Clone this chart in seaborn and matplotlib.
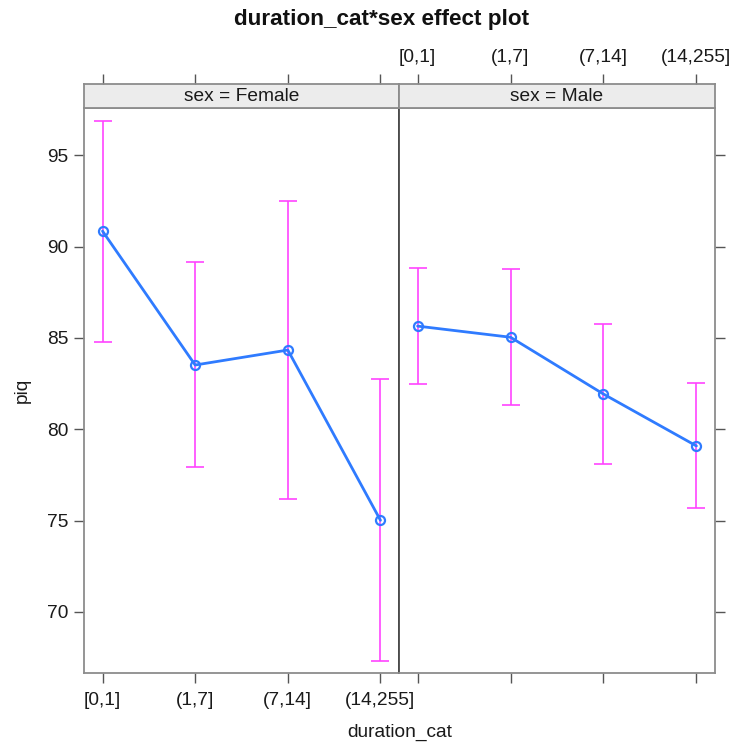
import matplotlib.pyplot as plt
import numpy as np
import pandas as pd
import seaborn as sns

# effect estimates
duration_levels = ["[0,1]", "(1,7]", "(7,14]", "(14,255]"]
sexes = ["Female", "Male"]

female_fit = [90.85, 83.52, 84.34, 75.02]
female_lower = [84.80, 77.92, 76.17, 67.32]
female_upper = [96.89, 89.14, 92.51, 82.74]

male_fit = [85.65, 85.04, 81.93, 79.09]
male_lower = [82.48, 81.31, 78.10, 75.68]
male_upper = [88.81, 88.77, 85.78, 82.52]

y_ticks = [70, 75, 80, 85, 90, 95]

df = pd.DataFrame({
    "duration_cat": duration_levels * 2,
    "pos": list(range(len(duration_levels))) * 2,
    "sex": ["Female"] * 4 + ["Male"] * 4,
    "fit": female_fit + male_fit,
    "lower": female_lower + male_lower,
    "upper": female_upper + male_upper,
})

sns.set_style("white")
plt.rcParams["font.family"] = ["Liberation Sans", "DejaVu Sans"]

W, H = 732, 744
fig = plt.figure(figsize=(W / 100, H / 100), dpi=100)


def px_axes(x0, x1, y0, y1):
    # pixel box (y from top) -> figure axes
    return fig.add_axes([x0 / W, 1 - y1 / H, (x1 - x0) / W, (y1 - y0) / H])


BLUE = "#2f7bff"
MAGENTA = "#ff44ff"
SPINE = "#8c8c8c"
FS = 13.8

panel_x = {"Female": (84, 399), "Male": (399, 715)}
ylim = (66.66, 97.59)
xlim = (-0.2, 3.2)

for sex in sexes:
    x0, x1 = panel_x[sex]
    ax = px_axes(x0, x1, 108, 673)
    strip = px_axes(x0, x1, 83.5, 108)
    sub = df[df["sex"] == sex]

    ax.errorbar(sub["pos"], sub["fit"],
                yerr=[sub["fit"] - sub["lower"], sub["upper"] - sub["fit"]],
                fmt="none", ecolor=MAGENTA, elinewidth=1.2, capsize=6.5,
                capthick=1.2, zorder=2)
    sns.lineplot(data=sub, x="pos", y="fit", ax=ax, color=BLUE, lw=2,
                 marker="o", markersize=6.5, markerfacecolor="none",
                 markeredgecolor=BLUE, markeredgewidth=1.6, zorder=3)

    ax.set_xlim(xlim)
    ax.set_ylim(ylim)
    ax.set_xticks(range(len(duration_levels)))
    ax.set_yticks(y_ticks)
    ax.set_xlabel("")
    ax.set_ylabel("")

    if sex == "Female":
        ax.set_xticklabels(duration_levels)
        ax.tick_params(axis="x", bottom=True, labelbottom=True)
        ax.tick_params(axis="y", left=True, right=False, labelleft=True)
    else:
        ax.set_xticklabels([])
        ax.tick_params(axis="x", bottom=True, labelbottom=False)
        ax.tick_params(axis="y", left=False, right=True, labelleft=False,
                       labelright=False)
    ax.tick_params(axis="x", length=7, width=1, color="#555555", pad=6.5,
                   labelsize=FS, labelcolor="#1a1a1a")
    ax.tick_params(axis="y", length=7, width=1, color="#555555", pad=4.5,
                   labelsize=FS, labelcolor="#1a1a1a")

    for side, sp in ax.spines.items():
        sp.set_color(SPINE)
        sp.set_linewidth(1.3)
    if sex == "Female":
        ax.spines["right"].set_color("#4a4a4a")
    else:
        ax.spines["left"].set_color("#4a4a4a")

    # strip with the panel label, ticks on top
    strip.set_facecolor("#ececec")
    strip.set_xlim(xlim)
    strip.set_ylim(0, 1)
    strip.set_yticks([])
    strip.set_xticks(range(len(duration_levels)))
    strip.xaxis.set_ticks_position("top")
    if sex == "Male":
        strip.set_xticklabels(duration_levels)
        strip.tick_params(axis="x", top=True, labeltop=True, bottom=False,
                          labelbottom=False)
    else:
        strip.set_xticklabels([])
        strip.tick_params(axis="x", top=True, labeltop=False, bottom=False,
                          labelbottom=False)
    strip.tick_params(length=7, width=1, color="#555555", pad=5.5,
                      labelsize=FS, labelcolor="#1a1a1a")
    for sp in strip.spines.values():
        sp.set_color(SPINE)
        sp.set_linewidth(1.3)
    strip.text(0.5, 0.45, f"sex = {sex}", transform=strip.transAxes,
               ha="center", va="center", fontsize=FS, color="#1a1a1a")

fig.text(382 / W, 1 - 20 / H, "duration_cat*sex effect plot", ha="center",
         va="center", fontsize=16.2, fontweight="bold", color="#111111")
fig.text(400 / W, 1 - 732 / H, "duration_cat", ha="center", va="center",
         fontsize=FS, color="#1a1a1a")
fig.text(22 / W, 1 - 390 / H, "piq", ha="center", va="center",
         rotation=90, fontsize=FS, color="#1a1a1a")

fig.savefig("out.png", dpi=100)
